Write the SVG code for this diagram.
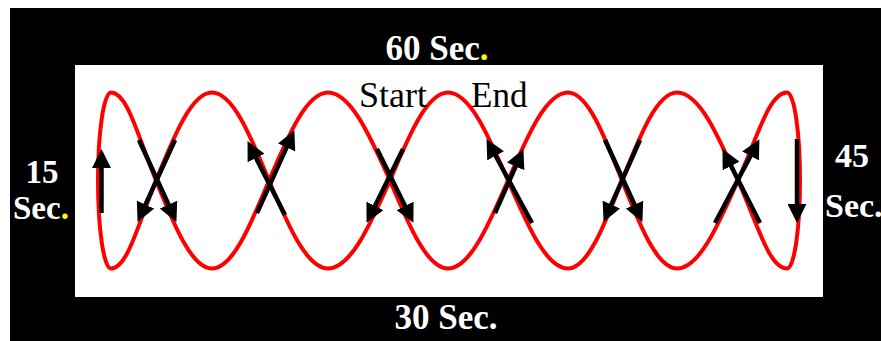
<svg xmlns="http://www.w3.org/2000/svg" width="881" height="341" viewBox="0 0 881 341">
  <defs>
    <style>
      .lbl { font-family: "Liberation Serif", "Times New Roman", serif; font-weight: bold; fill: #ffffff; }
      .txt { font-family: "Liberation Serif", "Times New Roman", serif; fill: #000000; }
      .track { fill: none; stroke: #ff0000; stroke-width: 4; }
      .arr { stroke: #000000; stroke-width: 4.5; fill: none; marker-end: url(#head); }
    </style>
    <marker id="head" markerUnits="userSpaceOnUse" markerWidth="19" markerHeight="19" refX="4" refY="9.5" orient="auto" viewBox="0 0 19 19">
      <path d="M0,0 L19,9.5 L0,19 Z" fill="#000000"/>
    </marker>
  </defs>

  <rect x="0" y="0" width="881" height="341" fill="#ffffff"/>
  <rect id="frame" x="10" y="8" width="871" height="333" fill="#000000"/>
  <rect id="field" x="75" y="65" width="748" height="232" fill="#ffffff"/>

  <g id="track">
    <path class="track" d="M98,180.5 C98,131.9 103.8,92.5 111,92.5
      C127.2,92.5 137.3,134.3 156,180.5
      C174.7,226.7 191.8,268.5 212,268.5
      C232.5,268.5 249.9,226.7 269,180.5
      C288.7,134.3 306.8,92.5 328,92.5
      C350.3,92.5 369.3,134.3 390,180.5
      C409.4,226.7 427.1,268.5 448,268.5
      C469.6,268.5 487.9,226.7 508,180.5
      C528.1,134.3 546.4,92.5 568,92.5
      C587.4,92.5 603.9,134.3 622,180.5
      C640.4,226.7 657.2,268.5 677,268.5
      C699,268.5 717.6,226.7 738,180.5
      C758.4,134.3 769.4,92.5 787,92.5
      C794.2,92.5 800,131.9 800,180.5
      C800,229.1 794.2,268.5 787,268.5
      C769.4,268.5 758.4,226.7 738,180.5
      C717.6,134.3 699,92.5 677,92.5
      C657.2,92.5 640.4,134.3 622,180.5
      C603.9,226.7 587.4,268.5 568,268.5
      C546.4,268.5 528.1,226.7 508,180.5
      C487.9,134.3 469.6,92.5 448,92.5
      C427.1,92.5 409.4,134.3 390,180.5
      C369.3,226.7 350.3,268.5 328,268.5
      C306.8,268.5 288.7,226.7 269,180.5
      C249.9,134.3 232.5,92.5 212,92.5
      C191.8,92.5 174.7,134.3 156,180.5
      C137.3,226.7 127.2,268.5 111,268.5
      C103.8,268.5 98,229.1 98,180.5 Z"/>
  </g>

  <g id="arrows">
    <line class="arr" x1="101.5" y1="213" x2="101.5" y2="164"/>
    <line class="arr" x1="139" y1="140" x2="170.2" y2="208.3"/>
    <line class="arr" x1="175" y1="140" x2="143.8" y2="208.3"/>
    <line class="arr" x1="257" y1="213" x2="288.2" y2="143.8"/>
    <line class="arr" x1="285" y1="215" x2="254.3" y2="154.5"/>
    <line class="arr" x1="377" y1="149" x2="406.8" y2="209.4"/>
    <line class="arr" x1="403" y1="149" x2="373.2" y2="209.4"/>
    <line class="arr" x1="532" y1="223" x2="493.7" y2="152.3"/>
    <line class="arr" x1="495" y1="213" x2="517.3" y2="162.8"/>
    <line class="arr" x1="605" y1="140" x2="636.2" y2="208.3"/>
    <line class="arr" x1="640" y1="140" x2="609.7" y2="208.2"/>
    <line class="arr" x1="760" y1="223" x2="729.3" y2="162.5"/>
    <line class="arr" x1="715" y1="223" x2="752.4" y2="152.4"/>
    <line class="arr" x1="797" y1="139" x2="797" y2="208"/>
  </g>

  <g id="label-60">
    <text class="lbl" x="437" y="60" font-size="35" text-anchor="middle">60 Sec<tspan fill="#ffff00">.</tspan></text>
  </g>
  <g id="label-30">
    <text class="lbl" x="446" y="329" font-size="35" text-anchor="middle">30 Sec.</text>
  </g>
  <g id="label-15">
    <text class="lbl" x="42" y="183" font-size="33" text-anchor="middle">15</text>
    <text class="lbl" x="13" y="219" font-size="33">Sec<tspan fill="#ffff00">.</tspan></text>
  </g>
  <g id="label-45">
    <text class="lbl" x="852" y="167" font-size="34" text-anchor="middle">45</text>
    <text class="lbl" x="825" y="217" font-size="34">Sec.</text>
  </g>
  <g id="label-start">
    <text class="txt" x="359" y="107" font-size="36">Start</text>
  </g>
  <g id="label-end">
    <text class="txt" x="471" y="107" font-size="35">End</text>
  </g>
</svg>
